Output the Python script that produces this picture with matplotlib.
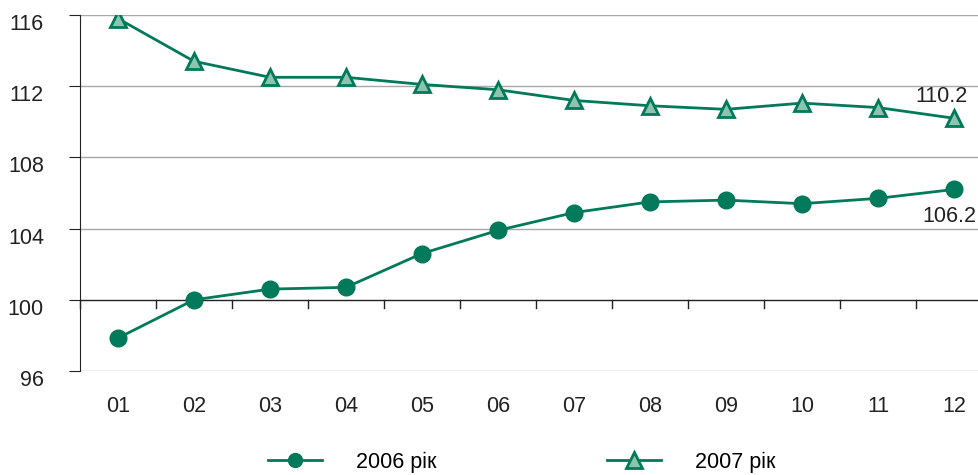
import matplotlib
matplotlib.use("Agg")
import matplotlib.pyplot as plt
from matplotlib.lines import Line2D
from matplotlib.transforms import ScaledTranslation

months = ["01", "02", "03", "04", "05", "06", "07", "08", "09", "10", "11", "12"]
y2006 = [97.85, 100.0, 100.6, 100.7, 102.6, 103.9, 104.9, 105.5, 105.6, 105.4, 105.7, 106.2]
y2007 = [115.8, 113.4, 112.5, 112.5, 112.1, 111.8, 111.2, 110.9, 110.7, 111.05, 110.8, 110.2]
yticks = [96, 100, 104, 108, 112, 116]
labels = ["2006 рік", "2007 рік"]

green = "#007A5A"
light = "#8CC4AE"
plt.rcParams['font.family'] = ['Liberation Sans', 'DejaVu Sans']

fig = plt.figure(figsize=(9.79, 4.75), dpi=100)
ax = fig.add_axes([80/979, 1-371/475, 912/979, 356/475])
x = list(range(len(months)))
ax.set_xlim(-0.5, 11.5)
ax.set_ylim(96, 116)

for yt in yticks:
    if yt != 100:
        ax.axhline(yt, color="#A8A8A8", lw=1.0, zorder=1)
ax.axhline(100, color="#222222", lw=1.0, zorder=2)
for b in [i + 0.5 for i in range(-1, 12)]:
    ax.plot([b, b], [100, 99.55], color="#222222", lw=1.0, zorder=2, clip_on=False)

l1, = ax.plot(x, y2006, color=green, lw=2, marker="o", ms=12, mfc=green, mec=green, zorder=3)
l2, = ax.plot(x, y2007, color=green, lw=2, marker="^", ms=12, mfc=light, mec=green, mew=2, zorder=3)

for s in ["top", "right", "bottom"]:
    ax.spines[s].set_visible(False)
ax.spines["left"].set_color("#222222")
ax.set_yticks(yticks)
ax.set_yticklabels([str(v) for v in yticks], fontsize=15.5, color="#222222")
ax.tick_params(axis="y", length=8, direction="out", color="#222222", pad=18)
off = ScaledTranslation(0, -7/100, fig.dpi_scale_trans)
for lab in ax.get_yticklabels():
    lab.set_transform(lab.get_transform() + off)
ax.set_xticks(x)
ax.set_xticklabels(months, fontsize=15.5, color="#222222")
ax.tick_params(axis="x", length=0, pad=18)

ax.annotate(f"{y2007[-1]:.1f}", (x[-1], y2007[-1]), xytext=(10, 8), textcoords="offset points",
            ha="right", va="bottom", fontsize=15.5, color="#222222")
ax.annotate(f"{y2006[-1]:.1f}", (x[-1], y2006[-1]), xytext=(16, -12), textcoords="offset points",
            ha="right", va="top", fontsize=15.5, color="#222222")

h1 = Line2D([], [], color=green, lw=2, marker="o", ms=10, mfc=green, mec=green)
h2 = Line2D([], [], color=green, lw=2, marker="^", ms=11, mfc=light, mec=green, mew=2)
fig.legend([h1, h2], labels, loc="center", bbox_to_anchor=(0.533, 1-462/475), ncol=2,
           frameon=False, fontsize=15.5, handlelength=2.5, handletextpad=1.6, columnspacing=7.9)

fig.savefig("out.png", dpi=100)
